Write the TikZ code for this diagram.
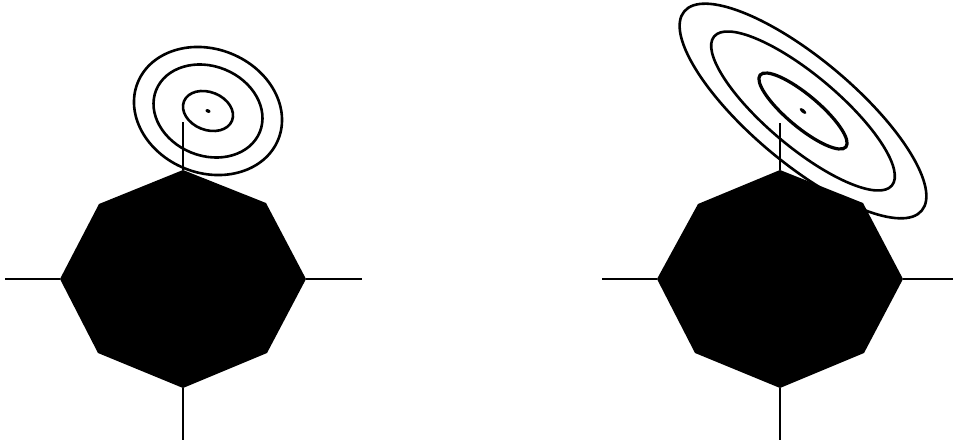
\documentclass[tikz,border=0pt]{standalone}
\usetikzlibrary{positioning}

\begin{document}
\begin{tikzpicture}[x=1pt, y=1pt,
        body/.style={fill=black},
        axisline/.style={line width=1.4pt},
        contour/.style={line width=2.6pt},
        centredot/.style={fill=black}
    ]
        \useasboundingbox (0,0) rectangle (953,-441);

        % Left body: octagon corners and axis ends
        \coordinate (lt) at (183,-170);
        \coordinate (lur) at (266,-203);
        \coordinate (lr) at (306,-279);
        \coordinate (llr) at (267,-353);
        \coordinate (lb) at (183,-388);
        \coordinate (lll) at (98,-353);
        \coordinate (ll) at (60,-279);
        \coordinate (lul) at (99,-204);
        \coordinate (lwest) at (5,-279);
        \coordinate (least) at (362,-279);
        \coordinate (lsouth) at (183,-440);
        \coordinate (lnorth) at (183,-122);
        \coordinate (lmean) at (208,-111);

        \fill[body] (lt) -- (lur) -- (lr) -- (llr) -- (lb) -- (lll) -- (ll) -- (lul) -- cycle;
        \draw[axisline] (lwest) -- (ll);
        \draw[axisline] (lr) -- (least);
        \draw[axisline] (lb) -- (lsouth);
        \draw[axisline] (lt) -- (lnorth);

        % Left contours, nearly round
        \draw[contour, rotate around={-22:(lmean)}] (lmean) ellipse [x radius=75.8, y radius=61.9];
        \draw[contour, rotate around={-22:(lmean)}] (lmean) ellipse [x radius=55.9, y radius=44.8];
        \draw[contour, rotate around={-22:(lmean)}] (lmean) ellipse [x radius=25.9, y radius=18.9];
        \fill[centredot, rotate around={-22:(lmean)}] (lmean) ellipse [x radius=2.6, y radius=1.8];

        % Right body: octagon corners and axis ends
        \coordinate (rt) at (780,-170);
        \coordinate (rur) at (863,-203);
        \coordinate (rr) at (903,-279);
        \coordinate (rlr) at (864,-353);
        \coordinate (rb) at (780,-388);
        \coordinate (rll) at (695,-353);
        \coordinate (rl) at (657,-279);
        \coordinate (rul) at (698,-204);
        \coordinate (rwest) at (602,-279);
        \coordinate (reast) at (953,-279);
        \coordinate (rsouth) at (780,-440);
        \coordinate (rnorth) at (780,-123);
        \coordinate (rmean) at (803,-111);

        \fill[body] (rt) -- (rur) -- (rr) -- (rlr) -- (rb) -- (rll) -- (rl) -- (rul) -- cycle;
        \draw[axisline] (rwest) -- (rl);
        \draw[axisline] (rr) -- (reast);
        \draw[axisline] (rb) -- (rsouth);
        \draw[axisline] (rt) -- (rnorth);

        % Right contours, stretched and tilted
        \draw[contour, rotate around={-40:(rmean)}] (rmean) ellipse [x radius=155, y radius=52];
        \draw[contour, rotate around={-40:(rmean)}] (rmean) ellipse [x radius=116, y radius=36];
        \draw[contour, line width=3.2pt, rotate around={-40:(rmean)}] (rmean) ellipse [x radius=56, y radius=16];
        \fill[centredot, rotate around={-40:(rmean)}] (rmean) ellipse [x radius=4, y radius=1.8];
    \end{tikzpicture}
\end{document}
